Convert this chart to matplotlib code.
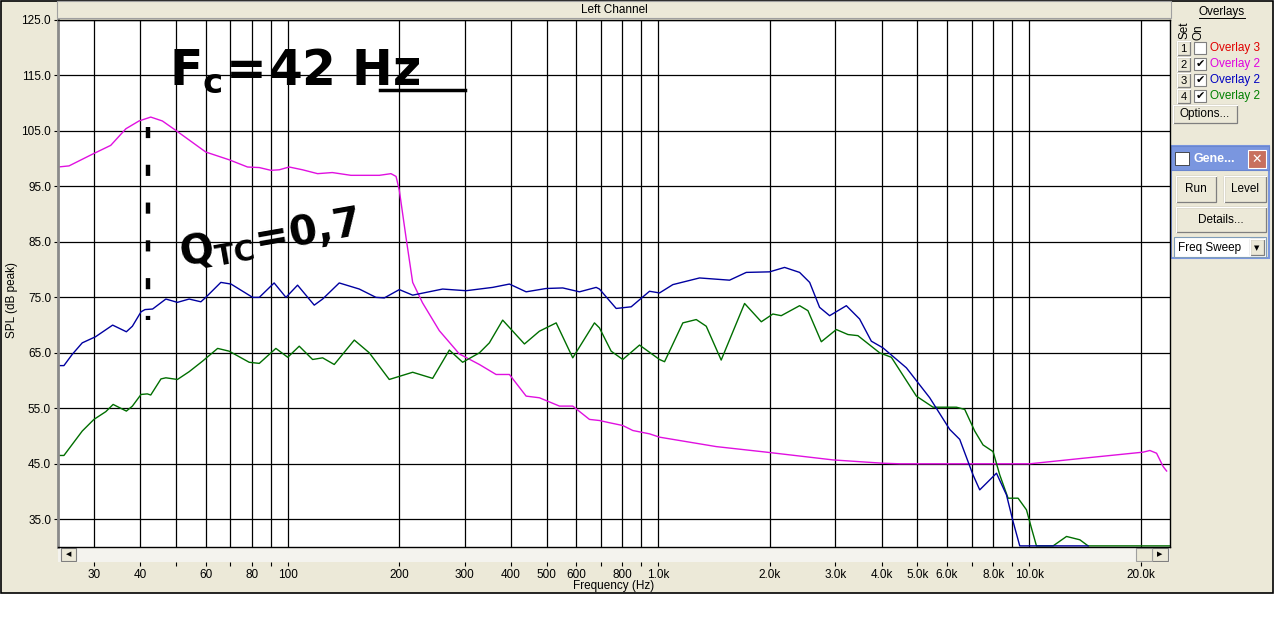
import numpy as np
import matplotlib
matplotlib.use("Agg")
import matplotlib.pyplot as plt
from matplotlib.patches import Rectangle
from matplotlib.ticker import FixedLocator, NullFormatter

# ---- data (Hz, dB) ----
mag_f = [24.0, 25.7, 29.7, 33.3, 36.6, 39.7, 42.7, 45.9, 49.9, 60.1, 69.5, 77.9, 83.8, 90.1,
         94.9, 100.9, 109.6, 120.4, 131.9, 148.1, 176.6, 189.9, 196.0, 200.0, 208.5, 217.3,
         231.1, 256.4, 290.4, 328.9, 364.8, 396.3, 439.7, 477.5, 540.9, 587.4, 651.6, 693.4,
         737.9, 801.5, 853.0, 946.2, 1007, 1164, 1432, 1954, 2957, 3639, 4035, 4476, 10040,
         13990, 20320, 21180, 22080, 23000, 23500]
mag_db = [98.5, 98.7, 100.8, 102.4, 105.4, 106.8, 107.5, 106.8, 105.1, 101.2, 99.8, 98.5, 98.4, 97.9,
          98.0, 98.5, 98.0, 97.3, 97.5, 97.0, 97.0, 97.3, 96.8, 94.3, 85.8, 77.7,
          74.0, 69.0, 64.8, 62.9, 61.1, 61.1, 57.2, 56.9, 55.4, 55.4, 53.0, 52.8,
          52.4, 51.9, 51.0, 50.4, 49.8, 49.1, 48.1, 47.1, 45.7, 45.3, 45.1, 45.0, 45.0,
          46.0, 47.1, 47.4, 46.9, 44.5, 43.7]

blue_f = [24.0, 24.9, 26.2, 27.9, 30.3, 33.7, 36.7, 38.1, 40.2, 41.2, 43.2, 46.9, 50.4, 54.2,
          58.3, 60.1, 66.0, 70.3, 80.4, 83.8, 91.9, 98.9, 106.3, 117.9, 124.2, 137.7, 156.0,
          173.0, 182.2, 200.0, 217.3, 261.7, 302.8, 357.2, 396.3, 439.7, 497.8, 552.1, 612.4,
          679.4, 693.4, 769.3, 844.5, 946.2, 1007, 1094, 1291, 1556, 1726, 1995, 2190, 2404,
          2559, 2722, 2897, 3214, 3490, 3754, 4035, 4667, 5395, 6108, 6500, 7060, 7360, 7674,
          8166, 8690, 9053, 9438, 14430]
blue_db = [62.7, 62.7, 64.7, 66.8, 67.9, 70.0, 68.8, 69.8, 72.4, 72.8, 72.9, 74.7, 74.1, 74.7,
           74.2, 75.0, 77.7, 77.4, 75.0, 75.0, 77.6, 75.0, 77.2, 73.6, 74.7, 77.6, 76.5,
           75.0, 74.9, 76.4, 75.4, 76.5, 76.2, 76.8, 77.4, 76.0, 76.6, 76.7, 76.0,
           76.8, 76.5, 73.0, 73.3, 76.1, 75.8, 77.3, 78.5, 78.1, 79.5, 79.6, 80.4, 79.5,
           77.7, 73.2, 71.7, 73.5, 71.1, 67.1, 65.9, 62.3, 56.9, 51.2, 49.4, 43.0, 40.3, 41.5,
           43.3, 39.4, 34.6, 30.2, 30.2]

green_f = [24.0, 24.9, 27.9, 30.0, 32.3, 33.8, 36.7, 38.1, 40.2, 41.8, 42.7, 45.5, 46.9, 50.4,
           54.2, 58.9, 64.7, 69.5, 78.7, 83.8, 92.9, 100.0, 107.4, 116.7, 124.2, 133.5, 151.2,
           166.0, 187.9, 217.3, 246.0, 272.9, 296.4, 328.9, 349.9, 380.1, 435.1, 477.5, 529.9,
           587.4, 672.2, 693.4, 745.7, 801.5, 889.3, 1007, 1039, 1164, 1265, 1346, 1477, 1708,
           1895, 2036, 2145, 2404, 2532, 2751, 3020, 3246, 3453, 3953, 4251, 4966, 5507, 6368,
           6706, 7135, 7513, 7995, 8335, 8777, 9340, 9840, 10150, 10470, 11610, 12620, 13710,
           14430, 24000]
green_db = [46.5, 46.5, 50.9, 53.0, 54.4, 55.7, 54.5, 55.4, 57.5, 57.6, 57.4, 60.3, 60.5, 60.2,
            61.6, 63.5, 65.8, 65.3, 63.3, 63.1, 65.8, 64.2, 66.2, 63.8, 64.1, 62.9, 67.3,
            65.0, 60.2, 61.5, 60.4, 65.5, 63.3, 65.0, 66.8, 70.9, 66.6, 68.9, 70.4,
            64.1, 70.4, 69.5, 65.3, 63.8, 66.4, 63.8, 63.4, 70.4, 71.0, 69.8, 63.7, 73.9,
            70.6, 72.0, 71.7, 73.5, 72.6, 67.0, 69.2, 68.3, 68.1, 65.0, 64.2, 57.2, 55.2, 55.2,
            54.8, 50.9, 48.4, 47.2, 43.0, 38.8, 38.8, 36.7, 33.4, 30.2, 30.2, 31.9, 31.3,
            30.2, 30.2]

major_ticks = [30, 40, 60, 80, 100, 200, 300, 400, 500, 600, 800, 1000, 2000, 3000, 4000,
               5000, 6000, 8000, 10000, 20000]
major_labels = ["30", "40", "60", "80", "100", "200", "300", "400", "500", "600", "800", "1.0k",
                "2.0k", "3.0k", "4.0k", "5.0k", "6.0k", "8.0k", "10.0k", "20.0k"]
minor_ticks = [50, 70, 90, 700, 900, 7000, 9000]
y_ticks = [35, 45, 55, 65, 75, 85, 95, 105, 115, 125]

fc = 42
fc_dash_db = (105.8, 71.0)

W, H = 1274, 637
BG = "#ECE9D8"
plt.rcParams["font.family"] = ["Liberation Sans", "DejaVu Sans"]

fig = plt.figure(figsize=(W / 100, H / 100), dpi=100, facecolor="white")


def fr(x0, y0, x1, y1):
    # pixel box -> figure fraction [l, b, w, h]
    return [x0 / W, 1 - y1 / H, (x1 - x0) / W, (y1 - y0) / H]


# background / window chrome drawn in pixel coords
ui = fig.add_axes([0, 0, 1, 1], zorder=0)
ui.set_xlim(0, W)
ui.set_ylim(H, 0)
ui.axis("off")
ui.add_patch(Rectangle((0.5, 0.5), W - 1.5, 592, facecolor=BG, edgecolor="black", lw=1.2))
ui.add_patch(Rectangle((57, 1), 1114, 17, facecolor=BG, edgecolor="#A0A0A0", lw=0.8))
ui.text(614, 10, "Left Channel", ha="center", va="center", fontsize=8.5)
ui.text(12, 300, "SPL (dB peak)", rotation=90, ha="center", va="center", fontsize=8.5)
ui.text(614, 586, "Frequency (Hz)", ha="center", va="center", fontsize=8.5)


def button(x, y, w, h, label="", fs=8.5, face=BG):
    ui.add_patch(Rectangle((x, y), w, h, facecolor=face, edgecolor="#7F7F7F", lw=0.9))
    ui.plot([x, x + w], [y, y], color="white", lw=0.8)
    ui.plot([x, x], [y, y + h], color="white", lw=0.8)
    if label:
        ui.text(x + w / 2, y + h / 2 + 0.5, label, ha="center", va="center", fontsize=fs)


# overlays panel
ui.text(1222, 12, "Overlays", ha="center", va="center", fontsize=8.5)
ui.plot([1199, 1245], [18, 18], color="black", lw=0.7)
ui.text(1185, 30, "Set", rotation=90, ha="center", va="center", fontsize=8.5)
ui.text(1199, 32, "On", rotation=90, ha="center", va="center", fontsize=8.5)
rows = [("1", False, "Overlay 3", "#E00000"), ("2", True, "Overlay 2", "#E000E0"),
        ("3", True, "Overlay 2", "#0000C0"), ("4", True, "Overlay 2", "#008000")]
for i, (n, on, name, col) in enumerate(rows):
    yy = 41 + i * 16
    button(1177, yy, 13, 14, n, fs=8)
    ui.add_patch(Rectangle((1194, yy + 1), 12, 12, facecolor="white", edgecolor="#7F7F7F", lw=0.8))
    if on:
        ui.text(1200, yy + 7, "\u2714", ha="center", va="center", fontsize=8,
                family=["DejaVu Sans"])
    ui.text(1210, yy + 7.5, name, ha="left", va="center", fontsize=8.5, color=col)
button(1173, 105, 64, 18, "Options...")

# generator mini window
ui.add_patch(Rectangle((1171, 146), 98, 112, facecolor=BG, edgecolor="#7A96DF", lw=1.5))
ui.add_patch(Rectangle((1171, 146), 98, 24, facecolor="#7A96DF", edgecolor="#6A86CF", lw=0.8))
ui.add_patch(Rectangle((1175, 152), 14, 13, facecolor="white", edgecolor="#333333", lw=0.6))
ui.text(1193, 159, "Gene...", ha="left", va="center", fontsize=9, color="white", weight="bold")
ui.add_patch(Rectangle((1248, 150), 18, 18, facecolor="#C8705E", edgecolor="white", lw=0.8))
ui.text(1257, 159, "\u2715", ha="center", va="center", fontsize=9, color="white",
        family=["DejaVu Sans"])
button(1176, 176, 40, 26, "Run")
button(1224, 176, 42, 26, "Level")
button(1176, 207, 90, 25, "Details...")
ui.add_patch(Rectangle((1174, 237), 92, 20, facecolor="white", edgecolor="#7F9DB9", lw=0.8))
ui.text(1178, 248, "Freq Sweep", ha="left", va="center", fontsize=8.5)
button(1250, 239, 14, 16)
ui.text(1257, 248, "\u25BC", ha="center", va="center", fontsize=5, family=["DejaVu Sans"])

# ---- main plot ----
ax = fig.add_axes(fr(58, 20, 1170, 547), zorder=2)
ax.set_facecolor("white")
ax.set_xscale("log")
ax.set_xlim(24, 24000)
ax.set_ylim(30, 125)
ax.xaxis.set_major_locator(FixedLocator(major_ticks))
ax.xaxis.set_minor_locator(FixedLocator(minor_ticks))
ax.xaxis.set_major_formatter(NullFormatter())
ax.xaxis.set_minor_formatter(NullFormatter())
ax.tick_params(axis="x", which="both", length=0)
ax.set_yticks(y_ticks)
ax.set_yticklabels([f"{v:.1f}" for v in y_ticks], fontsize=8.5)
ax.tick_params(axis="y", length=3, width=0.8, pad=2)
ax.grid(True, which="both", color="black", lw=0.9)
ax.set_axisbelow(True)
for s in ax.spines.values():
    s.set_color("black")
    s.set_linewidth(1.0)
ax.spines["left"].set_color("#8A8A8A")
ax.spines["left"].set_linewidth(2.0)

ax.plot(mag_f, mag_db, color="#E010E0", lw=1.0)
ax.plot(green_f, green_db, color="#006E00", lw=1.0)
ax.plot(blue_f, blue_db, color="#0000A0", lw=1.0)

# hand-written notes
ax.text(0.1, 0.876, r"$\mathregular{F_c\!=\!42\ Hz}$", transform=ax.transAxes, fontsize=35,
        weight="bold", ha="left", va="baseline", family=["DejaVu Sans"])
ax.plot([0.2896, 0.366], [0.867, 0.867], transform=ax.transAxes, color="black", lw=2.5)
ax.text(0.106, 0.535, r"$\mathregular{Q_{TC}\!=\!0{,}7}$", transform=ax.transAxes, fontsize=29,
        weight="bold", ha="left", va="baseline", rotation=10, family=["DejaVu Sans"])
ax.plot([fc, fc], fc_dash_db, color="black", lw=3.2, linestyle=(0, (2.5, 6)))

# ---- scroll bar with the frequency tick labels ----
sb = fig.add_axes(fr(58, 547, 1170, 562), zorder=1)
sb.set_facecolor("#F4F3EE")
sb.set_xscale("log")
sb.set_xlim(24, 24000)
sb.set_ylim(0, 1)
sb.set_yticks([])
sb.xaxis.set_major_locator(FixedLocator(major_ticks))
sb.xaxis.set_minor_locator(FixedLocator(minor_ticks))
sb.set_xticklabels(major_labels, fontsize=8.5)
sb.xaxis.set_minor_formatter(NullFormatter())
sb.tick_params(axis="x", which="both", length=3, width=0.8, pad=2, direction="out")
for s in sb.spines.values():
    s.set_visible(False)
sb.add_patch(Rectangle((0.003, 0.08), 0.013, 0.84, transform=sb.transAxes,
                       facecolor=BG, edgecolor="#7F7F7F", lw=0.8))
sb.text(0.0095, 0.5, "\u25C0", transform=sb.transAxes, ha="center", va="center", fontsize=5,
        family=["DejaVu Sans"])
sb.add_patch(Rectangle((0.984, 0.08), 0.014, 0.84, transform=sb.transAxes,
                       facecolor=BG, edgecolor="#7F7F7F", lw=0.8))
sb.text(0.991, 0.5, "\u25B6", transform=sb.transAxes, ha="center", va="center", fontsize=5,
        family=["DejaVu Sans"])
sb.add_patch(Rectangle((0.969, 0.08), 0.015, 0.84, transform=sb.transAxes,
                       facecolor=BG, edgecolor="#9F9F9F", lw=0.8))

fig.savefig("out.png", dpi=100, facecolor="white")
